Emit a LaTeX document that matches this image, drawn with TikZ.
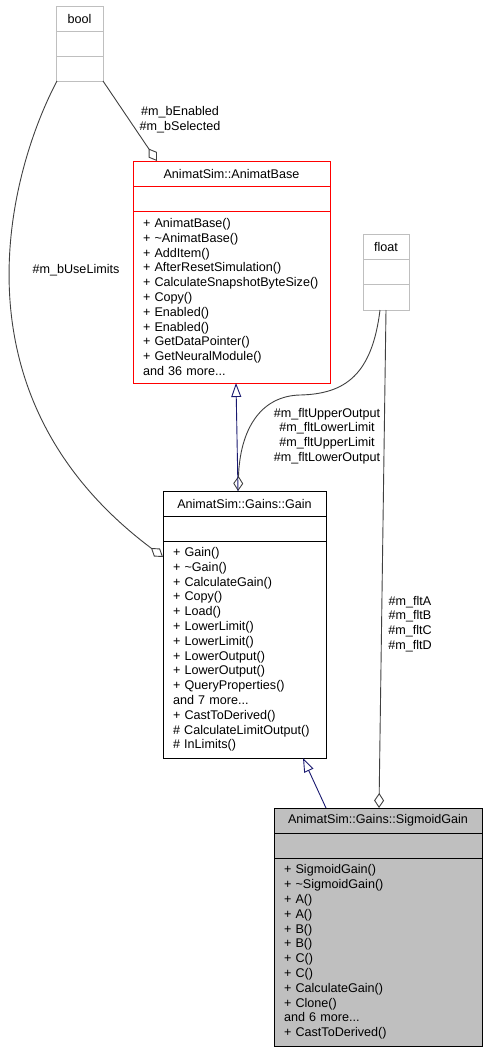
\documentclass[tikz,border=0pt]{standalone}
\usepackage{fontspec}
\setmainfont{Liberation Sans}
\usetikzlibrary{positioning,arrows.meta}
\definecolor{grey75}{HTML}{BFBFBF}
\definecolor{grey25}{HTML}{404040}
\definecolor{midblue}{HTML}{191970}
\newcommand\umlfont{\fontsize{12.6}{14.8}\selectfont}
\tikzset{
  part/.style={draw, outer sep=0pt, inner sep=0pt, minimum height=25pt, font=\umlfont, line width=0.9pt},
  meth/.style={part, align=left, inner xsep=10pt},
  lbl/.style={font=\umlfont, align=center, inner sep=0pt},
  aggr/.style={draw=grey25, line width=0.9pt, -{Diamond[open, length=15pt, width=10pt]}},
  inh/.style={draw=midblue, line width=0.9pt, -{Triangle[open, length=14pt, width=10pt]}},
}
\begin{document}
\begin{tikzpicture}[x=1pt, y=-1pt]
        \useasboundingbox (0,0) rectangle (487,1052);
        % bool
        \node [part, draw=grey75, minimum width=47pt, anchor=north west] (boolT) at (56,6) {bool};
        \node [part, draw=grey75, minimum width=47pt, below=0pt of boolT] (boolA) {};
        \node [part, draw=grey75, minimum width=47pt, below=0pt of boolA] (boolM) {};
        % AnimatBase
        \node [part, draw=red, minimum width=197pt, anchor=north west] (abT) at (133,161) {AnimatSim::AnimatBase};
        \node [part, draw=red, minimum width=197pt, below=0pt of abT] (abA) {};
        \node [meth, draw=red, text width=177pt, minimum height=172pt, below=0pt of abA] (abM)
          {+ AnimatBase()\\+ \textasciitilde AnimatBase()\\+ AddItem()\\+ AfterResetSimulation()\\
           + CalculateSnapshotByteSize()\\+ Copy()\\+ Enabled()\\+ Enabled()\\+ GetDataPointer()\\
           + GetNeuralModule()\\and 36 more...};
        % float
        \node [part, draw=grey75, minimum width=46pt, anchor=north west] (floatT) at (363,234) {float};
        \node [part, draw=grey75, minimum width=46pt, below=0pt of floatT] (floatA) {};
        \node [part, draw=grey75, minimum width=46pt, minimum height=26pt, below=0pt of floatA] (floatM) {};
        % Gain
        \node [part, minimum width=163pt, anchor=north west] (gainT) at (163,491) {AnimatSim::Gains::Gain};
        \node [part, minimum width=163pt, below=0pt of gainT] (gainA) {};
        \node [meth, text width=143pt, minimum height=217pt, below=0pt of gainA] (gainM)
          {+ Gain()\\+ \textasciitilde Gain()\\+ CalculateGain()\\+ Copy()\\+ Load()\\+ LowerLimit()\\
           + LowerLimit()\\+ LowerOutput()\\+ LowerOutput()\\+ QueryProperties()\\and 7 more...\\
           + CastToDerived()\\\# CalculateLimitOutput()\\\# InLimits()};
        % SigmoidGain
        \node [part, fill=grey75, minimum width=208pt, anchor=north west] (sgT) at (274,808) {AnimatSim::Gains::SigmoidGain};
        \node [part, fill=grey75, minimum width=208pt, below=0pt of sgT] (sgA) {};
        \node [meth, fill=grey75, text width=188pt, minimum height=188pt, below=0pt of sgA] (sgM)
          {+ SigmoidGain()\\+ \textasciitilde SigmoidGain()\\+ A()\\+ A()\\+ B()\\+ B()\\+ C()\\+ C()\\
           + CalculateGain()\\+ Clone()\\and 6 more...\\+ CastToDerived()};
        % connectors
        \draw [aggr] (boolM.south east) -- ([xshift=24pt]abT.north west);
        \draw [aggr] ([xshift=1pt]boolM.south west) .. controls (15,160) and (-60,390) .. ([yshift=-16pt]gainM.north west);
        \draw [aggr] ([xshift=-6pt]floatM.south) .. controls (372,375) and (345,394) .. (300,395)
          .. controls (260,396) and (240,430) .. ([xshift=75pt]gainT.north west);
        \draw [aggr] (floatM.south) -- ([xshift=105pt]sgT.north west);
        \draw [inh] ([xshift=75pt]gainT.north west) -- ([xshift=103pt]abM.south west);
        \draw [inh] ([xshift=52pt]sgT.north west) -- ([xshift=-23pt]gainM.south east);
        % labels
        \node [lbl] (lEnSel) at (180,120) {\#m\_bEnabled\\\#m\_bSelected};
        \node [lbl] (lUse) at (76,270) {\#m\_bUseLimits};
        \node [lbl] (lLim) at (327,436) {\#m\_fltUpperOutput\\\#m\_fltLowerLimit\\\#m\_fltUpperLimit\\\#m\_fltLowerOutput};
        \node [lbl] (lAD) at (410,624) {\#m\_fltA\\\#m\_fltB\\\#m\_fltC\\\#m\_fltD};
\end{tikzpicture}
\end{document}
